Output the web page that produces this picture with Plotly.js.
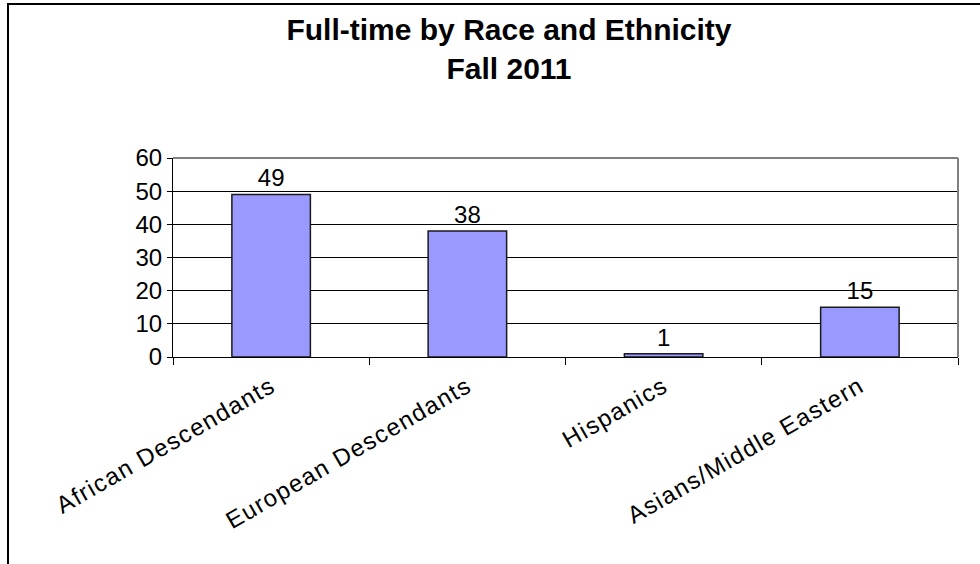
<!DOCTYPE html>
<html>
<head>
<meta charset="utf-8">
<script src="https://cdn.plot.ly/plotly-3.0.1.min.js"></script>
<style>
  html, body { margin: 0; padding: 0; background: #fff; }
  #chart { width: 980px; height: 564px; position: absolute; left: 0; top: 0; }
  #frame { position: absolute; left: 7px; top: 3px; width: 1000px; height: 620px; border: 2px solid #000; pointer-events: none; }
  .xtick text { letter-spacing: 1.4px; }
</style>
</head>
<body>
<div id="chart"></div>
<div id="frame"></div>
<script>
const categories = ["African Descendants", "European Descendants", "Hispanics", "Asians/Middle Eastern"];
const counts = [49, 38, 1, 15];
const yTicks = [0, 10, 20, 30, 40, 50, 60];

const font = "Arial, 'Liberation Sans', sans-serif";

const trace = {
  type: "bar",
  x: categories,
  y: counts,
  text: counts.map(String),
  textposition: "outside",
  textfont: { family: font, size: 24, color: "#000" },
  cliponaxis: false,
  marker: { color: "#9999ff", line: { color: "#1a1a1a", width: 1.5 } },
  hoverinfo: "skip"
};

const layout = {
  width: 980,
  height: 564,
  margin: { l: 173, r: 22, t: 158, b: 207 },
  paper_bgcolor: "#fff",
  plot_bgcolor: "#fff",
  showlegend: false,
  bargap: 0.6,
  font: { family: font, size: 24, color: "#000" },
  title: {
    text: "<b>Full-time by Race and Ethnicity<br>Fall 2011</b>",
    font: { family: font, size: 30, color: "#000" },
    x: 509 / 980,
    xref: "container",
    xanchor: "center",
    y: 1 - 40 / 564,
    yref: "container",
    yanchor: "top"
  },
  xaxis: {
    type: "category",
    tickson: "boundaries",
    ticks: "outside",
    ticklen: 7,
    tickcolor: "#000",
    tickwidth: 1,
    tickangle: -30,
    ticklabelstandoff: 5,
    tickfont: { family: font, size: 24, color: "#000" },
    showline: true,
    linecolor: "#000",
    linewidth: 1,
    showgrid: false,
    zeroline: false
  },
  yaxis: {
    range: [0, 60],
    tickvals: yTicks,
    ticktext: yTicks.map(String),
    ticks: "outside",
    ticklen: 5,
    tickcolor: "#000",
    tickwidth: 1,
    tickfont: { family: font, size: 24, color: "#000" },
    showline: true,
    linecolor: "#000",
    linewidth: 1,
    showgrid: true,
    gridcolor: "#000",
    gridwidth: 1,
    zeroline: true,
    zerolinecolor: "#000",
    zerolinewidth: 1
  },
  shapes: [
    { type: "line", xref: "paper", yref: "paper", x0: 0, x1: 1, y0: 1, y1: 1, line: { color: "#808080", width: 2 }, layer: "above" },
    { type: "line", xref: "paper", yref: "paper", x0: 1, x1: 1, y0: 0, y1: 1, line: { color: "#808080", width: 2 }, layer: "above" }
  ]
};

Plotly.newPlot("chart", [trace], layout, { displayModeBar: false, staticPlot: true });
</script>
</body>
</html>
